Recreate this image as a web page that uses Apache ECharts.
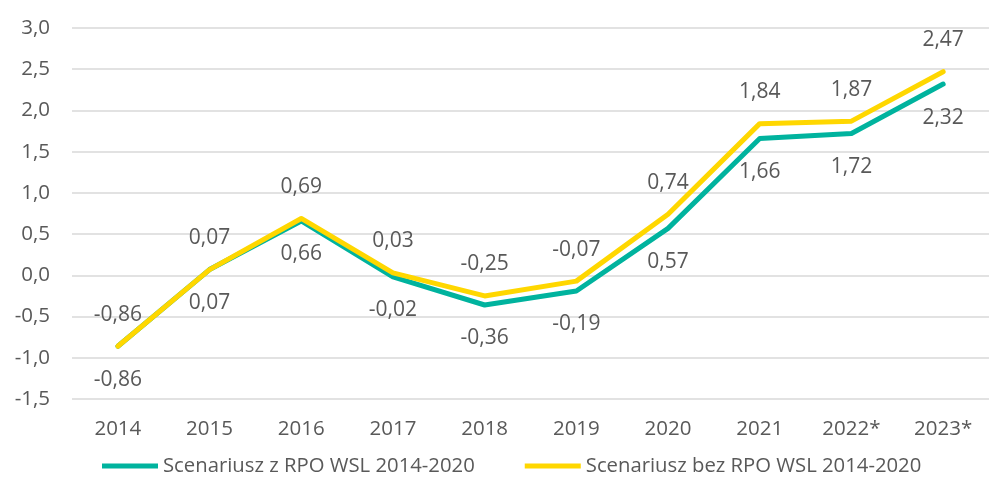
<!DOCTYPE html>
<html>
<head>
<meta charset="utf-8">
<script src="https://cdn.jsdelivr.net/npm/echarts@6/dist/echarts.min.js"></script>
<style>
  html, body { margin: 0; padding: 0; background: #ffffff; }
  #chart { width: 989px; height: 492px; }
</style>
</head>
<body>
<div id="chart"></div>
<script>
// lata (oś X)
const years = ['2014', '2015', '2016', '2017', '2018', '2019', '2020', '2021', '2022*', '2023*']
// scenariusz z RPO
const withRpo = [-0.86, 0.07, 0.66, -0.02, -0.36, -0.19, 0.57, 1.66, 1.72, 2.32]
// scenariusz bez RPO
const withoutRpo = [-0.86, 0.07, 0.69, 0.03, -0.25, -0.07, 0.74, 1.84, 1.87, 2.47]
const seriesNames = ['Scenariusz z RPO WSL 2014-2020', 'Scenariusz bez RPO WSL 2014-2020']

const textColor = '#595959'
const font = 'Open Sans'
const fmt = v => v.toFixed(2).replace('.', ',')

const chart = echarts.init(document.getElementById('chart'))
chart.setOption({
    backgroundColor: '#ffffff',
    animation: false,
    textStyle: {
        fontFamily: font
    },
    grid: {
        left: 72,
        right: -13,
        top: 28,
        bottom: 93
    },
    legend: {
        bottom: 11,
        left: 97,
        itemWidth: 56,
        itemHeight: 5,
        itemGap: 50,
        icon: 'rect',
        textStyle: {
            color: textColor,
            fontSize: 20.3,
            fontFamily: font
        },
        data: seriesNames
    },
    xAxis: {
        type: 'category',
        data: years,
        boundaryGap: true,
        axisLine: { show: false },
        axisTick: { show: false },
        axisLabel: {
            color: textColor,
            fontSize: 20.5,
            margin: 20
        }
    },
    yAxis: {
        type: 'value',
        min: -1.5,
        max: 3,
        interval: 0.5,
        axisLine: { show: false },
        axisTick: { show: false },
        axisLabel: {
            color: textColor,
            fontSize: 20.5,
            margin: 22,
            formatter: v => v.toFixed(1).replace('.', ',')
        },
        splitLine: {
            lineStyle: { color: '#d9d9d9', width: 1.5 }
        }
    },
    series: [
        {
            name: seriesNames[0],
            type: 'line',
            data: withRpo,
            symbol: 'circle',
            symbolSize: 0,
            showSymbol: true,
            color: '#00b39e',
            lineStyle: { width: 5, color: '#00b39e', cap: 'round', join: 'round' },
            label: {
                show: true,
                position: 'bottom',
                distance: 23,
                color: textColor,
                fontSize: 21,
                formatter: p => fmt(p.value)
            }
        },
        {
            name: seriesNames[1],
            type: 'line',
            data: withoutRpo,
            symbol: 'circle',
            symbolSize: 0,
            showSymbol: true,
            color: '#ffd700',
            lineStyle: { width: 5, color: '#ffd700', cap: 'round', join: 'round' },
            label: {
                show: true,
                position: 'top',
                distance: 21,
                color: textColor,
                fontSize: 21,
                formatter: p => fmt(p.value)
            }
        }
    ]
})
</script>
</body>
</html>
